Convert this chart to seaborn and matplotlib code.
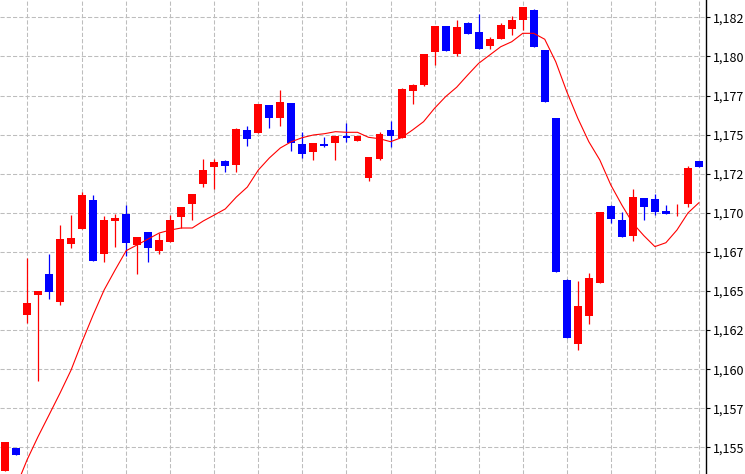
import numpy as np
import pandas as pd
import matplotlib
matplotlib.use('Agg')
import matplotlib.pyplot as plt
import seaborn as sns

# OHLC
opens = [1.15349, 1.15495, 1.16349, 1.16477, 1.16609, 1.16432, 1.16803, 1.16897, 1.17082, 1.16739,
         1.16950, 1.16993, 1.16796, 1.16878, 1.16758, 1.16816, 1.16975, 1.17059, 1.17186, 1.17295,
         1.17332, 1.17308, 1.17530, 1.17513, 1.17690, 1.17608, 1.17702, 1.17440, 1.17391, 1.17440,
         1.17449, 1.17491, 1.17461, 1.17225, 1.17346, 1.17530, 1.17481, 1.17781, 1.17818, 1.18030,
         1.18195, 1.18018, 1.18214, 1.18156, 1.18069, 1.18112, 1.18178, 1.18233, 1.18297, 1.18041,
         1.17608, 1.16571, 1.16163, 1.16342, 1.16553, 1.17044, 1.16954, 1.16854, 1.17095, 1.17089,
         1.17014, 1.17042, 1.17057, 1.17332]
highs = [1.15535, 1.15495, 1.16713, 1.16500, 1.16737, 1.16922, 1.16986, 1.17135, 1.17114, 1.16980,
         1.16993, 1.17050, 1.16846, 1.16878, 1.16871, 1.16986, 1.17037, 1.17121, 1.17344, 1.17344,
         1.17338, 1.17543, 1.17555, 1.17696, 1.17690, 1.17787, 1.17702, 1.17517, 1.17447, 1.17487,
         1.17491, 1.17575, 1.17491, 1.17357, 1.17517, 1.17587, 1.17798, 1.17824, 1.18016, 1.18195,
         1.18195, 1.18233, 1.18220, 1.18272, 1.18124, 1.18212, 1.18259, 1.18318, 1.18303, 1.18041,
         1.17608, 1.16577, 1.16566, 1.16615, 1.17005, 1.17050, 1.17005, 1.17153, 1.17095, 1.17121,
         1.17050, 1.17057, 1.17300, 1.17332]
lows = [1.15349, 1.15454, 1.16296, 1.15927, 1.16451, 1.16411, 1.16777, 1.16897, 1.16694, 1.16688,
        1.16784, 1.16726, 1.16611, 1.16688, 1.16739, 1.16816, 1.16901, 1.16954, 1.17167, 1.17155,
        1.17263, 1.17263, 1.17429, 1.17513, 1.17545, 1.17557, 1.17397, 1.17353, 1.17340, 1.17423,
        1.17340, 1.17455, 1.17461, 1.17206, 1.17340, 1.17423, 1.17481, 1.17698, 1.17811, 1.17947,
        1.18037, 1.18005, 1.18146, 1.18046, 1.18050, 1.18112, 1.18135, 1.18169, 1.18062, 1.17709,
        1.16622, 1.16202, 1.16123, 1.16291, 1.16553, 1.16937, 1.16848, 1.16822, 1.16954, 1.16988,
        1.16995, 1.16982, 1.17039, 1.17295]
closes = [1.15535, 1.15454, 1.16424, 1.16500, 1.16496, 1.16833, 1.16839, 1.17114, 1.16694, 1.16954,
          1.16967, 1.16809, 1.16846, 1.16777, 1.16826, 1.16954, 1.17037, 1.17121, 1.17274, 1.17325,
          1.17302, 1.17536, 1.17474, 1.17696, 1.17608, 1.17709, 1.17449, 1.17378, 1.17447, 1.17427,
          1.17491, 1.17481, 1.17491, 1.17357, 1.17504, 1.17493, 1.17792, 1.17818, 1.18016, 1.18195,
          1.18037, 1.18188, 1.18146, 1.18050, 1.18112, 1.18201, 1.18233, 1.18318, 1.18062, 1.17709,
          1.16622, 1.16202, 1.16404, 1.16583, 1.17005, 1.16963, 1.16848, 1.17101, 1.17039, 1.17005,
          1.16995, 1.17046, 1.17287, 1.17295]
# moving average line
ma = [1.15087, 1.15247, 1.15420, 1.15569, 1.15708, 1.15848, 1.15995, 1.16176, 1.16347, 1.16507,
      1.16635, 1.16758, 1.16795, 1.16833, 1.16871, 1.16890, 1.16903, 1.16903, 1.16948, 1.16986,
      1.17025, 1.17101, 1.17165, 1.17274, 1.17351, 1.17415, 1.17455, 1.17481, 1.17498, 1.17506,
      1.17519, 1.17515, 1.17515, 1.17483, 1.17474, 1.17455, 1.17481, 1.17530, 1.17583, 1.17669,
      1.17743, 1.17803, 1.17881, 1.17956, 1.18009, 1.18062, 1.18094, 1.18148, 1.18148, 1.18110,
      1.17966, 1.17775, 1.17605, 1.17455, 1.17338, 1.17178, 1.17050, 1.16933, 1.16854, 1.16784,
      1.16809, 1.16890, 1.16999, 1.17065]

ytick_vals = [1.155, 1.1575, 1.16, 1.1625, 1.165, 1.1675, 1.17, 1.1725, 1.175, 1.1775, 1.18, 1.1825]
ytick_labels = ['1,155', '1,157', '1,160', '1,162', '1,165', '1,167',
                '1,170', '1,172', '1,175', '1,177', '1,180', '1,182']
vgrid_idx = [2, 7, 11, 15, 19, 23, 27, 31, 35, 39, 43, 47, 51, 55, 59, 63]

df = pd.DataFrame({'open': opens, 'high': highs, 'low': lows, 'close': closes, 'ma': ma})
df['idx'] = np.arange(len(df))
colors = np.where(df['close'] >= df['open'], '#ff0000', '#0000ff')

sns.set_style('white')
plt.rcParams['font.family'] = ['Noto Sans CJK JP', 'DejaVu Sans']

fig = plt.figure(figsize=(7.45, 4.74), dpi=100)
ax = fig.add_axes([0, 0, 706 / 745, 1])

ax.vlines(df['idx'], df['low'], df['high'], colors=colors, linewidth=0.9, zorder=2)
ax.bar(df['idx'], (df['close'] - df['open']).abs(), bottom=df[['open', 'close']].min(axis=1),
       width=0.72, color=colors, linewidth=0, zorder=3)
sns.lineplot(data=df, x='idx', y='ma', color='#ff0000', linewidth=0.8, ax=ax, zorder=4)

ax.set_xlim(-0.4545, 63.64)
ax.set_ylim(1.15330, 1.18361)
ax.set_xticks(vgrid_idx)
ax.set_yticks(ytick_vals)
ax.set_yticklabels(ytick_labels)
ax.set_xlabel('')
ax.set_ylabel('')

ax.yaxis.tick_right()
ax.tick_params(axis='y', direction='out', length=3, width=0.8, labelsize=9, pad=2, colors='black')
ax.tick_params(axis='x', length=0, labelbottom=False)
ax.grid(True, color='#bdbdbd', linestyle=(0, (4, 2)), linewidth=0.75)
ax.set_axisbelow(True)

for s in ['left', 'top', 'bottom']:
    ax.spines[s].set_visible(False)
ax.spines['right'].set_color('black')
ax.spines['right'].set_linewidth(1)

fig.savefig('out.png', dpi=100)
